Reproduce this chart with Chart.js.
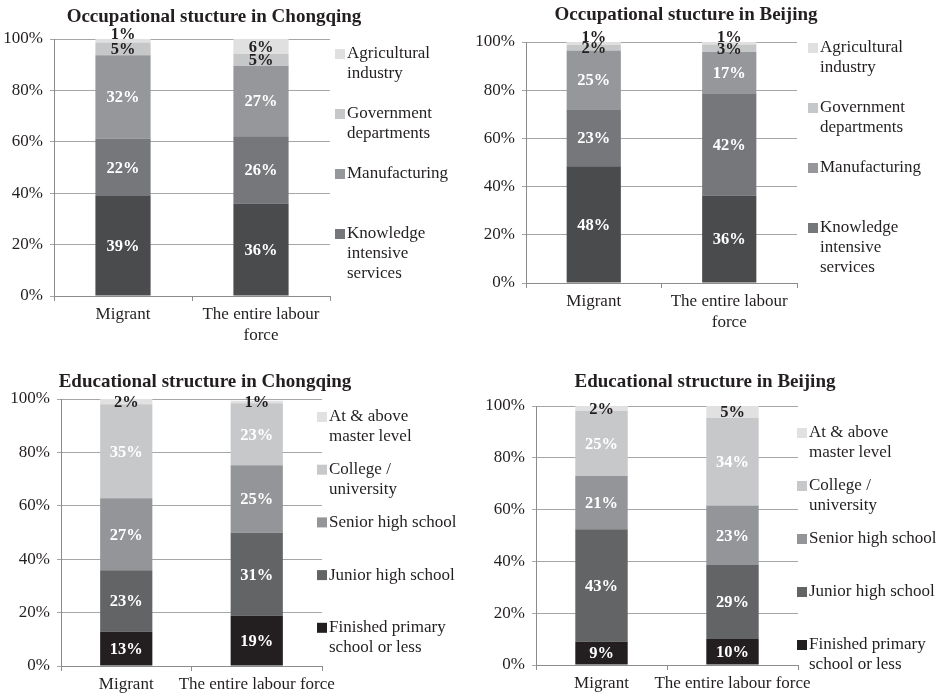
<!DOCTYPE html>
<html>
<head>
<meta charset="utf-8">
<script src="https://cdn.jsdelivr.net/npm/chart.js@4"></script>
<style>
  body { margin: 0; background: #fff; }
  #wrap { position: relative; width: 937px; height: 693px; }
  canvas { position: absolute; }
</style>
</head>
<body>
<div id="wrap">
  <canvas id="cqOcc" width="467" height="345" style="left:0;top:0"></canvas>
  <canvas id="bjOcc" width="470" height="345" style="left:467px;top:0"></canvas>
  <canvas id="cqEdu" width="467" height="348" style="left:0;top:345px"></canvas>
  <canvas id="bjEdu" width="470" height="348" style="left:467px;top:345px"></canvas>
</div>
<script>
// categories
const categoriesOcc = ['Migrant', ['The entire labour', 'force']];
const categoriesEdu = ['Migrant', 'The entire labour force'];

// legend texts (segment order bottom -> top); first occupational segment has no legend entry
const occLegend = [null, ['Knowledge', 'intensive', 'services'], ['Manufacturing'], ['Government', 'departments'], ['Agricultural', 'industry']];
const eduLegend = [['Finished primary', 'school or less'], ['Junior high school'], ['Senior high school'], ['College /', 'university'], ['At & above', 'master level']];

// values in %, bottom -> top segment
const cqOccMigrant = [38.9, 22.4, 32.4, 4.9, 1.4];
const cqOccEntire  = [36.0, 26.2, 27.3, 4.7, 5.8];
const bjOccMigrant = [48.4, 23.4, 24.7, 2.4, 1.1];
const bjOccEntire  = [36.3, 42.1, 17.4, 3.2, 1.0];
const cqEduMigrant = [12.8, 23.1, 26.9, 35.2, 2.0];
const cqEduEntire  = [18.8, 31.1, 25.3, 23.2, 0.9];
const bjEduMigrant = [9.0, 43.4, 20.6, 25.2, 1.8];
const bjEduEntire  = [10.0, 28.6, 23.0, 33.8, 4.6];

const yTicks = [0, 20, 40, 60, 80, 100];

const occColors = ['#4a4b4d', '#76777a', '#96979a', '#c6c7c8', '#e0e0e0'];
const eduColors = ['#231f20', '#636466', '#939598', '#c7c8ca', '#e1e1e2'];
const occLabelColors = ['#fff', '#fff', '#fff', '#231f20', '#231f20'];
const eduLabelColors = ['#fff', '#fff', '#fff', '#fff', '#231f20'];

const SERIF = '"Liberation Serif", "Times New Roman", serif';
const TEXT = '#231f20';

// titles, legends and the % labels inside the bars
const panelPlugin = {
    id: 'panel',
    afterDatasetsDraw(chart, args, opts) {
        const ctx = chart.ctx;
        ctx.save();
        ctx.font = 'bold 16.5px ' + SERIF;
        ctx.textAlign = 'center';
        ctx.textBaseline = 'middle';
        chart.data.datasets.forEach((ds, i) => {
            const meta = chart.getDatasetMeta(i);
            meta.data.forEach((el, j) => {
                const v = ds.data[j];
                let y = (el.y + el.base) / 2;
                const h = Math.abs(el.base - el.y);
                if (opts.liftTiny && i === chart.data.datasets.length - 1 && h < 5) {
                    y = el.y - 5;
                }
                ctx.fillStyle = opts.labelColors[i];
                ctx.fillText(Math.round(v) + '%', el.x, y + 1);
            });
        });
        ctx.restore();
    },
    afterDraw(chart, args, opts) {
        const ctx = chart.ctx;
        ctx.save();
        ctx.fillStyle = TEXT;
        ctx.font = 'bold 19px ' + SERIF;
        ctx.textAlign = 'center';
        ctx.textBaseline = 'middle';
        ctx.fillText(opts.title, opts.titleX, opts.titleY);

        // legend, top item first
        ctx.font = '17px ' + SERIF;
        ctx.textAlign = 'left';
        let k = 0;
        for (let i = chart.data.datasets.length - 1; i >= 0; i--) {
            const lines = opts.legend[i];
            if (!lines) continue;
            const y = opts.legendY + k * opts.legendGap;
            ctx.fillStyle = chart.data.datasets[i].backgroundColor;
            ctx.fillRect(opts.legendX, y - 5, 10, 10);
            ctx.fillStyle = TEXT;
            lines.forEach((t, n) => ctx.fillText(t, opts.legendX + 12, y + n * 20));
            k++;
        }
        ctx.restore();
    }
};

function makeChart(id, p) {
    const datasets = p.migrant.map((v, i) => ({
        label: p.legend[i] ? p.legend[i].join(' ') : '',
        data: [p.migrant[i], p.entire[i]],
        backgroundColor: p.colors[i],
        borderWidth: 0,
        barPercentage: 0.4,
        categoryPercentage: 1
    }));
    return new Chart(document.getElementById(id), {
        type: 'bar',
        data: { labels: p.categories, datasets: datasets },
        options: {
            responsive: false,
            animation: false,
            layout: { padding: { left: 0, top: p.top, right: p.right, bottom: 0 } },
            plugins: {
                legend: { display: false },
                tooltip: { enabled: false },
                panel: {
                    title: p.title, titleX: p.titleX, titleY: p.titleY,
                    legend: p.legend, legendX: p.legendX, legendY: p.legendY, legendGap: p.legendGap,
                    labelColors: p.labelColors, liftTiny: p.liftTiny
                }
            },
            scales: {
                x: {
                    stacked: true,
                    grid: { offset: true, drawOnChartArea: false, drawTicks: true, tickLength: 5, color: '#8c8c8c' },
                    border: { color: '#8c8c8c' },
                    ticks: { padding: 4, color: TEXT, maxRotation: 0, autoSkip: false,
                             font: { family: SERIF, size: 17, lineHeight: 1.18 } },
                    afterFit: s => { s.height = p.xHeight; }
                },
                y: {
                    stacked: true,
                    min: 0,
                    max: 100,
                    afterBuildTicks: s => { s.ticks = yTicks.map(v => ({ value: v })); },
                    grid: { color: '#a6a6a6', tickLength: 4 },
                    border: { color: '#8c8c8c' },
                    ticks: { padding: 7, color: TEXT, font: { family: SERIF, size: 17 },
                             callback: v => v + '%' },
                    afterFit: s => { s.width = p.yWidth; }
                }
            }
        },
        plugins: [panelPlugin]
    });
}

makeChart('cqOcc', {
    title: 'Occupational stucture in Chongqing', titleX: 214, titleY: 17,
    categories: categoriesOcc, migrant: cqOccMigrant, entire: cqOccEntire,
    colors: occColors, labelColors: occLabelColors, legend: occLegend, liftTiny: true,
    top: 39, right: 137, yWidth: 54, xHeight: 49,
    legendX: 335, legendY: 54, legendGap: 60
});
makeChart('bjOcc', {
    title: 'Occupational stucture in Beijing', titleX: 219, titleY: 15,
    categories: categoriesOcc, migrant: bjOccMigrant, entire: bjOccEntire,
    colors: occColors, labelColors: occLabelColors, legend: occLegend, liftTiny: true,
    top: 42, right: 140, yWidth: 59, xHeight: 62,
    legendX: 341, legendY: 48, legendGap: 60
});
makeChart('cqEdu', {
    title: 'Educational structure in Chongqing', titleX: 205, titleY: 37,
    categories: categoriesEdu, migrant: cqEduMigrant, entire: cqEduEntire,
    colors: eduColors, labelColors: eduLabelColors, legend: eduLegend, liftTiny: false,
    top: 54, right: 145, yWidth: 61, xHeight: 27,
    legendX: 317, legendY: 72, legendGap: 52.7
});
makeChart('bjEdu', {
    title: 'Educational structure in Beijing', titleX: 238, titleY: 37,
    categories: categoriesEdu, migrant: bjEduMigrant, entire: bjEduEntire,
    colors: eduColors, labelColors: eduLabelColors, legend: eduLegend, liftTiny: false,
    top: 61, right: 139, yWidth: 69, xHeight: 28,
    legendX: 330, legendY: 88, legendGap: 53
});
</script>
</body>
</html>
